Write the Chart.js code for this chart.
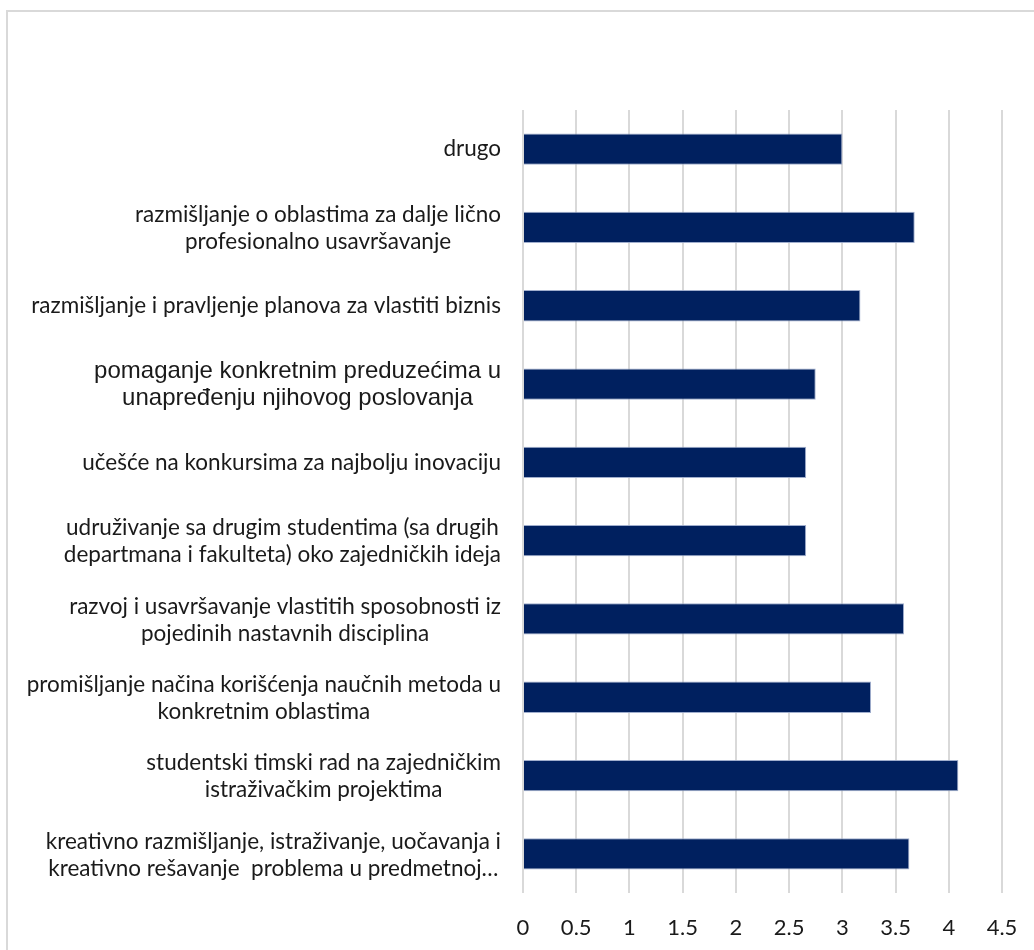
<!DOCTYPE html>
<html>
<head>
<meta charset="utf-8">
<script src="https://cdn.jsdelivr.net/npm/chart.js@4.4.1/dist/chart.umd.min.js"></script>
<style>
  html, body { margin: 0; padding: 0; background: #fff; overflow: hidden; }
  #wrap { position: relative; width: 1034px; height: 950px; }
</style>
</head>
<body>
<div id="wrap"><canvas id="chart" width="1034" height="950"></canvas></div>
<script>
// Categories, top to bottom (each entry = label lines)
const categories = [
  ["drugo"],
  ["razmišljanje o oblastima za dalje lično", "profesionalno usavršavanje"],
  ["razmišljanje i pravljenje planova za vlastiti biznis"],
  ["pomaganje konkretnim preduzećima u", "unapređenju njihovog poslovanja"],
  ["učešće na konkursima za najbolju inovaciju"],
  ["udruživanje sa drugim studentima (sa drugih", "departmana i fakulteta) oko zajedničkih ideja"],
  ["razvoj i usavršavanje vlastitih sposobnosti iz", "pojedinih nastavnih disciplina"],
  ["promišljanje načina korišćenja naučnih metoda u", "konkretnim oblastima"],
  ["studentski timski rad na zajedničkim", "istraživačkim projektima"],
  ["kreativno razmišljanje, istraživanje, uočavanja i", "kreativno rešavanje  problema u predmetnoj…"],
];
const scores = [3.0, 3.68, 3.17, 2.75, 2.66, 2.66, 3.58, 3.27, 4.09, 3.63];
const xTicks = [0, 0.5, 1, 1.5, 2, 2.5, 3, 3.5, 4, 4.5];

const textColor = "#1a1a1a";
const labelFont = "22.5px Lato";
const pastedFont = "24px 'Liberation Sans'"; // the one label typed in another font
const pastedIndex = 3;
const lineHeight = 27;

// light grey frame around the chart
const framePlugin = {
  id: "frame",
  beforeDraw(chart) {
    const ctx = chart.ctx;
    ctx.save();
    ctx.fillStyle = "#fff";
    ctx.fillRect(0, 0, chart.width, chart.height);
    ctx.strokeStyle = "#d9d9d9";
    ctx.lineWidth = 2;
    ctx.beginPath();
    ctx.moveTo(7, chart.height);
    ctx.lineTo(7, 11);
    ctx.lineTo(chart.width, 11);
    ctx.stroke();
    ctx.restore();
  },
};

// category labels: each block right-aligned to the axis, lines centred within it
const categoryLabels = {
  id: "categoryLabels",
  afterDraw(chart) {
    const ctx = chart.ctx;
    const yScale = chart.scales.y;
    const right = chart.chartArea.left - 22;
    ctx.save();
    ctx.fillStyle = textColor;
    ctx.textAlign = "center";
    ctx.textBaseline = "middle";
    categories.forEach((lines, i) => {
      ctx.font = i === pastedIndex ? pastedFont : labelFont;
      const w = Math.max(...lines.map((l) => ctx.measureText(l).width));
      const cx = right - w / 2;
      const cy = yScale.getPixelForValue(i) + (lines.length > 1 ? 1 : 0);
      lines.forEach((line, k) => {
        ctx.fillText(line, cx, cy + (k - (lines.length - 1) / 2) * lineHeight);
      });
    });
    ctx.restore();
  },
};

const data = {
  labels: categories,
  datasets: [
    {
      data: scores,
      backgroundColor: "#00205f",
      borderColor: "rgba(150, 165, 200, 0.9)",
      borderWidth: 1,
      barPercentage: 0.4,
      categoryPercentage: 1,
    },
  ],
};

const config = {
  type: "bar",
  data: data,
  options: {
    indexAxis: "y",
    responsive: false,
    animation: false,
    devicePixelRatio: 1,
    layout: {
      padding: { left: 0, top: 110, right: 32, bottom: 0 },
    },
    plugins: {
      legend: { display: false },
      tooltip: { enabled: false },
    },
    scales: {
      x: {
        min: 0,
        max: 4.5,
        afterBuildTicks: (scale) => {
          scale.ticks = xTicks.map((v) => ({ value: v }));
        },
        afterFit: (scale) => {
          scale.height = 57;
          // keep the end labels from pushing the plot area inwards
          scale.paddingLeft = 0;
          scale.paddingRight = 0;
        },
        grid: {
          color: "#d9d9d9",
          lineWidth: 2,
          drawTicks: false,
        },
        border: { display: false },
        ticks: {
          color: textColor,
          font: { family: "Lato", size: 22 },
          padding: 22,
          maxRotation: 0,
          callback: (value) => String(value),
        },
      },
      y: {
        afterFit: (scale) => {
          scale.width = 523;
        },
        grid: { display: false },
        border: { display: false },
        ticks: { display: false },
      },
    },
  },
  plugins: [framePlugin, categoryLabels],
};

new Chart(document.getElementById("chart"), config);
</script>
</body>
</html>
